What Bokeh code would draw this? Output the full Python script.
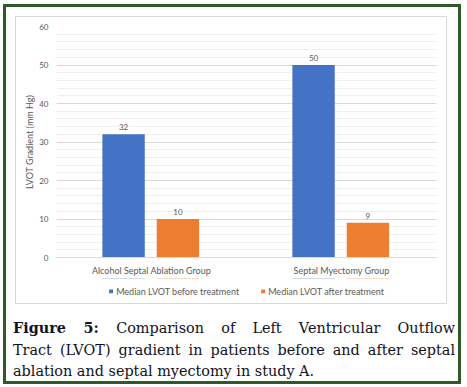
from bokeh.plotting import figure
from bokeh.models import (ColumnDataSource, FactorRange, Legend, LegendItem, Div,
                          SingleIntervalTicker, Range1d)
from bokeh.transform import dodge
from bokeh.layouts import column
from bokeh.embed import file_html
from bokeh.resources import INLINE
from bokeh.core.properties import value

# ---- data ----
groups = ["Alcohol Septal Ablation Group", "Septal Myectomy Group"]
before = [32, 50]
after = [10, 9]
series_names = ["Median LVOT before treatment", "Median LVOT after treatment"]
y_title = "LVOT Gradient (mm Hg)"
y_min, y_max, y_step = 0, 60, 10
caption_bold = "Figure 5:"
caption_lines = ["Comparison of Left Ventricular Outflow",
                 "Tract (LVOT) gradient in patients before and after septal",
                 "ablation and septal myectomy in study A."]

BLUE = "#4472C4"
ORANGE = "#ED7D31"
GREY_TXT = "#595959"
FONT = "Lato"
W = 430
OFF_B, OFF_A, BAR_W = -0.147, 0.139, 0.223

src = ColumnDataSource(dict(
    g=groups, before=before, after=after,
    bl=[str(v) for v in before], al=[str(v) for v in after]))

# ---- main chart ----
xr = FactorRange(factors=groups)
p = figure(x_range=xr, y_range=Range1d(y_min, y_max),
           width=W, height=261, output_backend="svg", toolbar_location=None,
           min_border_left=40, min_border_right=10, min_border_top=9,
           min_border_bottom=20, sizing_mode="fixed",
           outline_line_color=None, background_fill_color="white",
           border_fill_color="white")

p.vbar(x=dodge("g", OFF_B, range=xr), top="before", width=BAR_W,
       source=src, fill_color=BLUE, line_color=None)
p.vbar(x=dodge("g", OFF_A, range=xr), top="after", width=BAR_W,
       source=src, fill_color=ORANGE, line_color=None)

p.text(x=dodge("g", OFF_B, range=xr), y="before", text="bl", source=src,
       y_offset=-4, text_align="center", text_baseline="bottom",
       text_font=value(FONT), text_font_size="8px", text_color=GREY_TXT)
p.text(x=dodge("g", OFF_A, range=xr), y="after", text="al", source=src,
       y_offset=-4, text_align="center", text_baseline="bottom",
       text_font=value(FONT), text_font_size="8px", text_color=GREY_TXT)

p.yaxis.ticker = SingleIntervalTicker(interval=y_step, num_minor_ticks=5)
p.yaxis.major_tick_line_color = None
p.yaxis.minor_tick_line_color = None
p.yaxis.major_tick_out = 0
p.yaxis.minor_tick_out = 0
p.yaxis.major_tick_in = 0
p.yaxis.axis_line_color = None
p.yaxis.major_label_standoff = 8
p.yaxis.major_label_text_font = FONT
p.yaxis.major_label_text_font_size = "8px"
p.yaxis.major_label_text_color = GREY_TXT
p.yaxis.axis_label = y_title
p.yaxis.axis_label_text_font = FONT
p.yaxis.axis_label_text_font_size = "9px"
p.yaxis.axis_label_text_font_style = "normal"
p.yaxis.axis_label_text_color = GREY_TXT
p.yaxis.axis_label_standoff = 1

p.ygrid.grid_line_color = "#d9d9d9"
p.ygrid.minor_grid_line_color = "#efefef"
p.xgrid.grid_line_color = None

p.xaxis.major_tick_line_color = None
p.xaxis.minor_tick_line_color = None
p.xaxis.major_tick_out = 0
p.xaxis.major_tick_in = 0
p.xaxis.axis_line_color = "#d9d9d9"
p.xaxis.major_label_standoff = 7
p.xaxis.major_label_text_font = FONT
p.xaxis.major_label_text_font_size = "9px"
p.xaxis.major_label_text_color = GREY_TXT

# ---- legend strip (inside the same chart box) ----
# shares the category axis; its y window lies below zero, so the proxy bars
# themselves stay out of view and only their legend swatches show
pl = figure(width=W, height=25, output_backend="svg", toolbar_location=None,
            x_range=xr, y_range=Range1d(-2, -1), min_border=0,
            sizing_mode="fixed", outline_line_color=None,
            background_fill_color="white", border_fill_color="white")
pl.axis.visible = False
pl.grid.visible = False
lr1 = pl.vbar(x=dodge("g", OFF_B, range=xr), top="before", width=BAR_W,
              source=src, fill_color=BLUE, line_color=None)
lr2 = pl.vbar(x=dodge("g", OFF_A, range=xr), top="after", width=BAR_W,
              source=src, fill_color=ORANGE, line_color=None)
legend = Legend(items=[LegendItem(label=series_names[0], renderers=[lr1]),
                       LegendItem(label=series_names[1], renderers=[lr2])],
                orientation="horizontal", location="center",
                glyph_width=5, glyph_height=5, label_text_font=FONT,
                label_text_font_size="9px", label_text_color=GREY_TXT,
                label_standoff=3, spacing=21, padding=0, margin=0,
                border_line_color=None, background_fill_alpha=0,
                label_height=10)
pl.add_layout(legend)

chart_box = column(p, pl, margin=(10, 12, 0, 10), sizing_mode="fixed",
                   styles={"outline": "1px solid #d9d9d9"})

# ---- caption ----
cap_html = (
    '<div style="font-family:\'DejaVu Serif\';font-size:14.4px;line-height:21.5px;'
    'color:#111122;width:442px;">'
    '<div style="text-align:justify;text-align-last:justify;"><b>' + caption_bold +
    '</b> ' + caption_lines[0] + '</div>'
    '<div style="text-align:justify;text-align-last:justify;">' + caption_lines[1] + '</div>'
    '<div>' + caption_lines[2] + '</div></div>')
cap = Div(text=cap_html, width=444, height=64, margin=(14, 1, 0, 7),
          sizing_mode="fixed")

layout = column(chart_box, cap, margin=(4, 0, 0, 3), sizing_mode="fixed",
                styles={"border": "3px solid #2d5a27", "background": "white"})

open("out.html", "w").write(file_html(layout, INLINE))
